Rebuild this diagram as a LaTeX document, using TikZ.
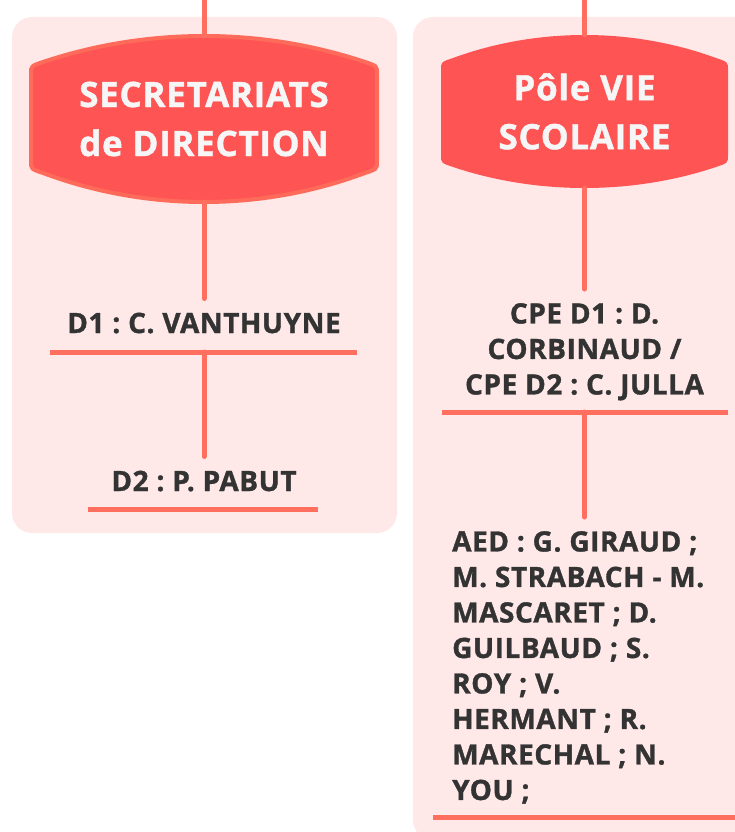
\documentclass[tikz,border=0pt]{standalone}
\usepackage{fontspec}
\setmainfont{Open Sans}[BoldFeatures={FakeBold=1.2,LetterSpace=2}]
\usetikzlibrary{calc}

\definecolor{panelc}{HTML}{FFE8E8}
\definecolor{headc}{HTML}{FF5454}
\definecolor{rimc}{HTML}{FF6B5A}
\definecolor{linkc}{HTML}{FF6F5F}
\definecolor{inkc}{HTML}{333333}
\definecolor{paperc}{HTML}{F6F6F6}

% header shape: options, x, y of top left, width, height, side top, side bottom
\newcommand\headshape[7]{%
  \path[#1,shift={(#2,#3)}] (0,{#6+12}) .. controls (0,{#6+4}) .. (12,#6)
    .. controls ({#4/3},{-#6/3}) and ({2*#4/3},{-#6/3}) .. ({#4-12},#6)
    .. controls (#4,{#6+4}) .. (#4,{#6+12})
    -- (#4,{#5-#7-12}) .. controls (#4,{#5-#7-4}) .. ({#4-12},{#5-#7})
    .. controls ({2*#4/3},{#5+#7/3}) and ({#4/3},{#5+#7/3}) .. (12,{#5-#7})
    .. controls (0,{#5-#7-4}) .. (0,{#5-#7-12}) -- cycle;}

\begin{document}
\frenchspacing
\begin{tikzpicture}[x=1pt,y=-1pt,
  link/.style={draw=linkc,line width=5pt,line cap=round},
  bar/.style={draw=linkc,line width=5pt},
  headtext/.style={text=paperc,font=\fontsize{35}{49}\selectfont\bfseries,align=center,inner sep=0pt},
  person/.style={text=inkc,font=\fontsize{28}{35.5}\selectfont\bfseries,inner xsep=0pt,inner ysep=14pt}]

  \useasboundingbox (0,0) rectangle (734,832);
  % panels
  \fill[panelc,rounded corners=20pt] (12,17) rectangle (397,533);
  \fill[panelc,rounded corners=20pt] (413,17) rectangle (770,840);

  % headers
  \headshape{fill=headc,draw=rimc,line width=4pt}{31}{36}{346}{166}{26}{29}
  \headshape{fill=headc}{441}{35}{287}{153}{23}{21}
  \node[headtext,minimum width=346pt,minimum height=166pt] (secr) at (204,119) {SECRETARIATS\\de DIRECTION};
  \node[headtext,minimum width=287pt,minimum height=153pt] (vie) at (584.5,111.5) {Pôle VIE\\SCOLAIRE};

  % people
  \node[person,anchor=base] (d1) at (204,333) {D1 : C. VANTHUYNE};
  \node[person,anchor=base] (d2) at (204,491) {D2 : P. PABUT};
  \node[person,anchor=north,align=center] (cpe) at (584.5,289) {CPE D1 : D.\\CORBINAUD /\\CPE D2 : C. JULLA};
  \node[person,anchor=north west,align=left] (aed) at (452,517) {AED : G. GIRAUD ;\\M. STRABACH - M.\\MASCARET ; D.\\GUILBAUD ; S.\\ROY ; V.\\HERMANT ; R.\\MARECHAL ; N.\\YOU ;};

  % underlines
  \coordinate (d1bar) at (204,352);
  \coordinate (cpebar) at (584.5,412);
  \draw[bar] (50,352) -- (357,352);
  \draw[bar] (88,509) -- (318,509);
  \draw[bar] (442,412) -- (728,412);
  \draw[bar] (433,817) -- (740,817);

  % links
  \coordinate (topL) at (204,0);
  \coordinate (topR) at (584.5,0);
  \draw[link] (topL) -- (secr.north);
  \draw[link] (secr.south) -- (d1.north);
  \draw[link] (d1bar) -- (d2.north);
  \draw[link] (topR) -- (vie.north);
  \draw[link] (vie.south) -- (cpe.north);
  \draw[link] (cpebar) -- (cpebar |- aed.north);
\end{tikzpicture}
\end{document}
